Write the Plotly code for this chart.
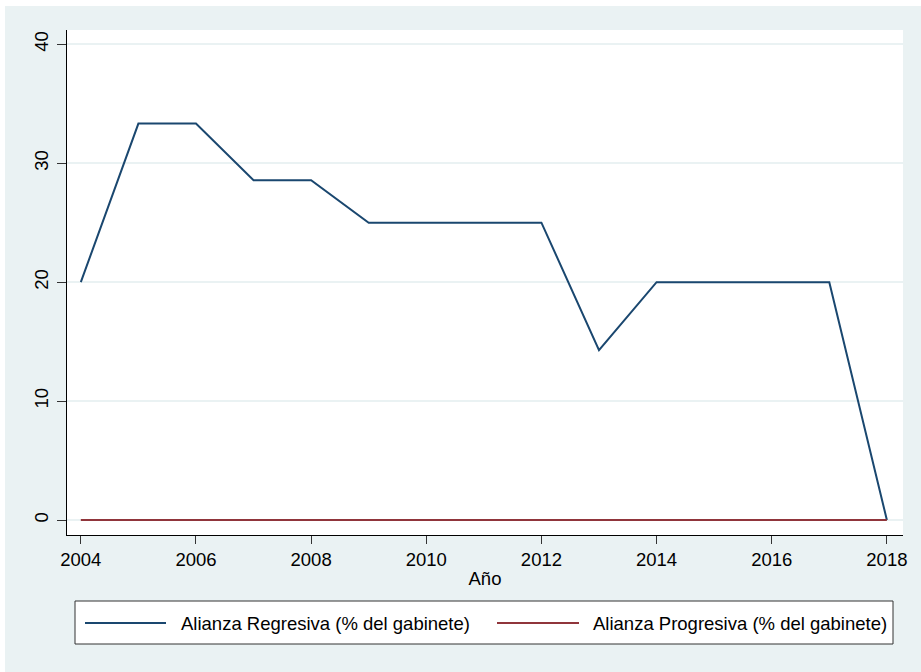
import plotly.graph_objects as go

years = [2004, 2005, 2006, 2007, 2008, 2009, 2010, 2011, 2012, 2013, 2014, 2015, 2016, 2017, 2018]
regresiva = [20, 33.33, 33.33, 28.57, 28.57, 25, 25, 25, 25, 14.29, 20, 20, 20, 20, 0]
progresiva = [0, 0, 0, 0, 0, 0, 0, 0, 0, 0, 0, 0, 0, 0, 0]
series_names = ["Alianza Regresiva (% del gabinete)", "Alianza Progresiva (% del gabinete)"]
series_colors = ["#1A476F", "#90353B"]
x_ticks = [2004, 2006, 2008, 2010, 2012, 2014, 2016, 2018]
y_ticks = [0, 10, 20, 30, 40]

BG = "#EAF2F3"
FONT = "Liberation Sans, Arial, Helvetica, sans-serif"
FS = 18.5

fig = go.Figure()
for vals, name, col in zip([regresiva, progresiva], series_names, series_colors):
    fig.add_trace(go.Scatter(x=years, y=vals, mode="lines", name=name,
                             line=dict(color=col, width=2)))

W, H = 921, 672
L, R, T, B = 67, 18, 30, 137
pw, ph = W - L - R, H - T - B

def px_x(p):
    return (p - L) / pw

def px_y(p):
    return (H - B - p) / ph

shapes = [
    dict(type="rect", xref="paper", yref="paper", x0=-0.2, x1=1.2, y0=px_y(6), y1=px_y(-10),
         fillcolor="white", line=dict(width=0), layer="below"),
    dict(type="rect", xref="paper", yref="paper", x0=px_x(-10), x1=px_x(5), y0=-0.5, y1=1.2,
         fillcolor="white", line=dict(width=0), layer="below"),
    # legend box
    dict(type="rect", xref="paper", yref="paper", x0=px_x(75), x1=px_x(893), y0=px_y(644), y1=px_y(601),
         fillcolor="white", line=dict(color="#333", width=1), layer="above"),
]
annotations = []
leg_y = px_y(623)
for (sx0, sx1, tx), name, col in zip([(85, 166, 179), (497, 579, 591)], series_names, series_colors):
    shapes.append(dict(type="line", xref="paper", yref="paper", x0=px_x(sx0), x1=px_x(sx1),
                       y0=leg_y, y1=leg_y, line=dict(color=col, width=2), layer="above"))
    annotations.append(dict(xref="paper", yref="paper", x=px_x(tx), y=leg_y, xanchor="left",
                            yanchor="middle", text=name, showarrow=False,
                            font=dict(size=FS, color="#000")))

fig.update_layout(
    width=W, height=H,
    margin=dict(l=L, r=R, t=T, b=B, autoexpand=False),
    paper_bgcolor=BG, plot_bgcolor="white",
    font=dict(family=FONT, size=FS, color="#000"),
    showlegend=False,
    xaxis=dict(range=[2003.76, 2018.28], tickvals=x_ticks, showgrid=False, zeroline=False,
               showline=True, linecolor="#000", linewidth=1, ticks="outside", ticklen=8,
               tickcolor="#333", tickwidth=1,
               title=dict(text="Año", standoff=2, font=dict(size=FS))),
    yaxis=dict(range=[-1.26, 41.2], tickvals=y_ticks, showgrid=True, gridcolor=BG, gridwidth=1.5,
               zeroline=False, showline=True, linecolor="#000", linewidth=1, ticks="outside",
               ticklen=9, tickcolor="#333", tickwidth=1, tickangle=-90, ticklabelstandoff=2),
    shapes=shapes,
    annotations=annotations,
)

fig.write_html("out.html", config={"displayModeBar": False},
               post_script="document.body.style.margin='0';document.body.style.overflow='hidden';")
